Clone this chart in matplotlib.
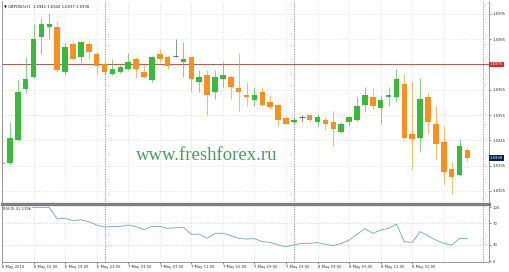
"""
GBPUSD H1 candlestick chart with RSI panel, MetaTrader style.
"""

import matplotlib.pyplot as plt
import numpy as np
import pandas as pd

# Data
times = pd.date_range("2014-05-06 11:00", periods=60, freq="h")

opens = [1.69359, 1.69359, 1.69450, 1.69651, 1.69702, 1.69859, 1.69899, 1.69899, 1.69721, 1.69832,
         1.69781, 1.69832, 1.69792, 1.69753, 1.69714, 1.69721, 1.69733, 1.69773, 1.69721, 1.69690,
         1.69792, 1.69781, 1.69784, 1.69761, 1.69781, 1.69682, 1.69710, 1.69643, 1.69694, 1.69702,
         1.69655, 1.69631, 1.69611, 1.69643, 1.69603, 1.69591, 1.69540, 1.69521, 1.69544, 1.69552,
         1.69524, 1.69532, 1.69524, 1.69481, 1.69521, 1.69532, 1.69591, 1.69623, 1.69576, 1.69623,
         1.69623, 1.69674, 1.69473, 1.69461, 1.69623, 1.69513, 1.69442, 1.69335, 1.69312, 1.69410]
highs = [1.69513, 1.69524, 1.69690, 1.69781, 1.69911, 1.69934, 1.69954, 1.69918, 1.69836, 1.69840,
         1.69844, 1.69840, 1.69800, 1.69761, 1.69773, 1.69749, 1.69796, 1.69781, 1.69749, 1.69785,
         1.69812, 1.69788, 1.69852, 1.69840, 1.69781, 1.69729, 1.69729, 1.69729, 1.69761, 1.69710,
         1.69796, 1.69682, 1.69662, 1.69662, 1.69631, 1.69599, 1.69548, 1.69540, 1.69552, 1.69556,
         1.69556, 1.69544, 1.69564, 1.69521, 1.69548, 1.69623, 1.69662, 1.69655, 1.69631, 1.69662,
         1.69733, 1.69714, 1.69682, 1.69698, 1.69643, 1.69584, 1.69505, 1.69363, 1.69454, 1.69420]
lows = [1.69296, 1.69351, 1.69446, 1.69639, 1.69698, 1.69792, 1.69852, 1.69721, 1.69710, 1.69769,
        1.69757, 1.69773, 1.69710, 1.69710, 1.69710, 1.69718, 1.69729, 1.69702, 1.69698, 1.69682,
        1.69761, 1.69733, 1.69781, 1.69702, 1.69643, 1.69643, 1.69552, 1.69615, 1.69662, 1.69615,
        1.69564, 1.69584, 1.69584, 1.69584, 1.69572, 1.69505, 1.69513, 1.69517, 1.69524, 1.69528,
        1.69505, 1.69493, 1.69426, 1.69477, 1.69505, 1.69528, 1.69564, 1.69572, 1.69513, 1.69584,
        1.69603, 1.69457, 1.69335, 1.69402, 1.69473, 1.69375, 1.69276, 1.69237, 1.69308, 1.69370]
closes = [1.69355, 1.69461, 1.69643, 1.69694, 1.69852, 1.69911, 1.69911, 1.69729, 1.69820, 1.69773,
          1.69840, 1.69800, 1.69745, 1.69721, 1.69733, 1.69741, 1.69761, 1.69733, 1.69702, 1.69781,
          1.69773, 1.69745, 1.69784, 1.69773, 1.69694, 1.69702, 1.69631, 1.69702, 1.69710, 1.69662,
          1.69643, 1.69623, 1.69631, 1.69591, 1.69580, 1.69532, 1.69513, 1.69532, 1.69544, 1.69532,
          1.69544, 1.69513, 1.69493, 1.69513, 1.69544, 1.69584, 1.69631, 1.69584, 1.69611, 1.69631,
          1.69694, 1.69461, 1.69454, 1.69615, 1.69521, 1.69434, 1.69323, 1.69304, 1.69426, 1.69380]

rsi = [99.4, 99.4, 99.4, 99.4, 99.4, 99.4, 99.4, 77.8, 79.0, 74.7,
       76.5, 72.8, 66.7, 63.0, 64.0, 64.0, 66.7, 63.5, 58.0, 64.0,
       64.0, 60.5, 61.5, 62.4, 49.4, 50.0, 42.0, 51.2, 51.5, 46.9,
       42.0, 40.7, 41.5, 35.8, 34.6, 29.6, 26.5, 29.6, 32.7, 32.7,
       34.0, 30.9, 28.4, 32.7, 38.9, 49.4, 60.0, 51.2, 57.4, 60.5,
       68.5, 35.8, 34.6, 54.3, 46.9, 38.9, 32.7, 29.6, 42.0, 41.1]

price_ticks = [1.6925, 1.6935, 1.6945, 1.6955, 1.6965, 1.6975, 1.6985, 1.6995]
rsi_ticks = [0, 30, 70, 100]
rsi_levels = [30, 70]
level_price = 1.6975
bid_price = 1.6938
header = "\u25bc GBPUSD,H1  1.6941 1.6942 1.6937 1.6938"
rsi_title = "RSI(9) 41.1396"
watermark = "www.freshforex.ru"

# Styles
UP = "#3cb93c"
DOWN = "#f7901e"
DOJI = "#555555"
GRID = "#dedede"
FS = 2.7

plt.rcParams["font.family"] = ["DejaVu Sans"]

W, H = 510, 272


def box(x0, y0, x1, y1):
    return [x0 / W, 1 - y1 / H, (x1 - x0) / W, (y1 - y0) / H]


fig = plt.figure(figsize=(W / 100, H / 100), dpi=100)
ax = fig.add_axes(box(2, 1, 489, 202))
ar = fig.add_axes(box(2, 204, 489, 262), sharex=ax)

x = np.arange(len(times))
o, h, l, c = map(np.array, (opens, highs, lows, closes))
colors = np.where(c > o, UP, np.where(c < o, DOWN, DOJI))

# grid
label_idx = x[4::4]
for a in (ax, ar):
    for xi in label_idx:
        a.axvline(xi, color=GRID, lw=0.5, ls=(0, (2, 2)), zorder=0)
for p in price_ticks:
    ax.axhline(p, color=GRID, lw=0.5, ls=(0, (2, 2)), zorder=0)
for lv in rsi_levels:
    ar.axhline(lv, color="#cfcfcf", lw=0.5, ls=(0, (2, 2)), zorder=0)

# day separators
day_idx = [i for i, t in enumerate(times) if t.hour == 0] + [len(times) + 1]
for a in (ax, ar):
    for xi in day_idx:
        a.axvline(xi, color="#8a8a8a", lw=0.6, ls=(0, (1.5, 1.5)), zorder=1)

# candles
ax.vlines(x, l, h, colors=colors, lw=0.6, alpha=0.75, zorder=2)
body = np.abs(c - o)
ax.bar(x, body, bottom=np.minimum(o, c), width=0.7, color=colors, zorder=3)
doji = c == o
ax.hlines(c[doji], x[doji] - 0.35, x[doji] + 0.35, colors=DOJI, lw=0.6, zorder=3)

ax.axhline(level_price, color="#b5594b", lw=0.7, zorder=1)

ax.text(0.421, 0.23, watermark, transform=ax.transAxes, ha="center", va="center",
        fontsize=13.5, family="Liberation Serif", color="#45a05f", zorder=4)

ax.set_xlim(0.09, 61.73)
ax.set_ylim(1.69206, 1.70001)
ax.yaxis.tick_right()
ax.set_yticks(price_ticks)
# the level line carries its own boxed label
ax.set_yticklabels(["" if p == level_price else f"{p:.4f}" for p in price_ticks])
ax.tick_params(axis="y", labelsize=FS, length=1.2, width=0.4, pad=1.2,
               colors="#333333")
ax.tick_params(axis="x", bottom=False, labelbottom=False)

for p, fc in ((level_price, "#d22a2a"), (bid_price, "#0b1a5e")):
    ax.text(1.002, p, f"{p:.4f}", transform=ax.get_yaxis_transform(),
            ha="left", va="center", fontsize=FS, color="white", zorder=6,
            bbox=dict(boxstyle="square,pad=0.25", fc=fc, ec="none"),
            clip_on=False)

# RSI
ar.plot(x, rsi, color="#6aaabb", lw=0.6)
ar.set_ylim(-1.85, 105.6)
ar.yaxis.tick_right()
ar.set_yticks(rsi_ticks)
ar.tick_params(axis="y", labelsize=FS, length=1.2, width=0.4, pad=1.2,
               colors="#333333")
tick_labels = [f"{times[0].day} {times[0]:%b %Y}"] + \
    [f"{times[i].day} {times[i]:%b %H:%M}" for i in label_idx[:-1]]
ar.set_xticks([0] + list(label_idx[:-1]))
ar.set_xticklabels(tick_labels, ha="left")
ar.tick_params(axis="x", labelsize=FS, length=1.2, width=0.4, pad=1.0,
               colors="#333333")
ar.text(0.003, 0.94, rsi_title, transform=ar.transAxes, ha="left", va="top",
        fontsize=FS, color="#333333",
        bbox=dict(boxstyle="square,pad=0.2", fc="white", ec="none"))

# frames
for a in (ax, ar):
    for s in a.spines.values():
        s.set_color("#8a8a8a")
        s.set_linewidth(0.6)
ax.spines["top"].set_visible(False)
ax.spines["bottom"].set_visible(False)
ar.spines["top"].set_linewidth(2.4)
ar.spines["top"].set_color("#7f7f7f")

fig.text(4 / W, 1 - 6 / H, header, ha="left", va="center", fontsize=FS,
         color="#222222")

fig.savefig("out.png", dpi=100)
